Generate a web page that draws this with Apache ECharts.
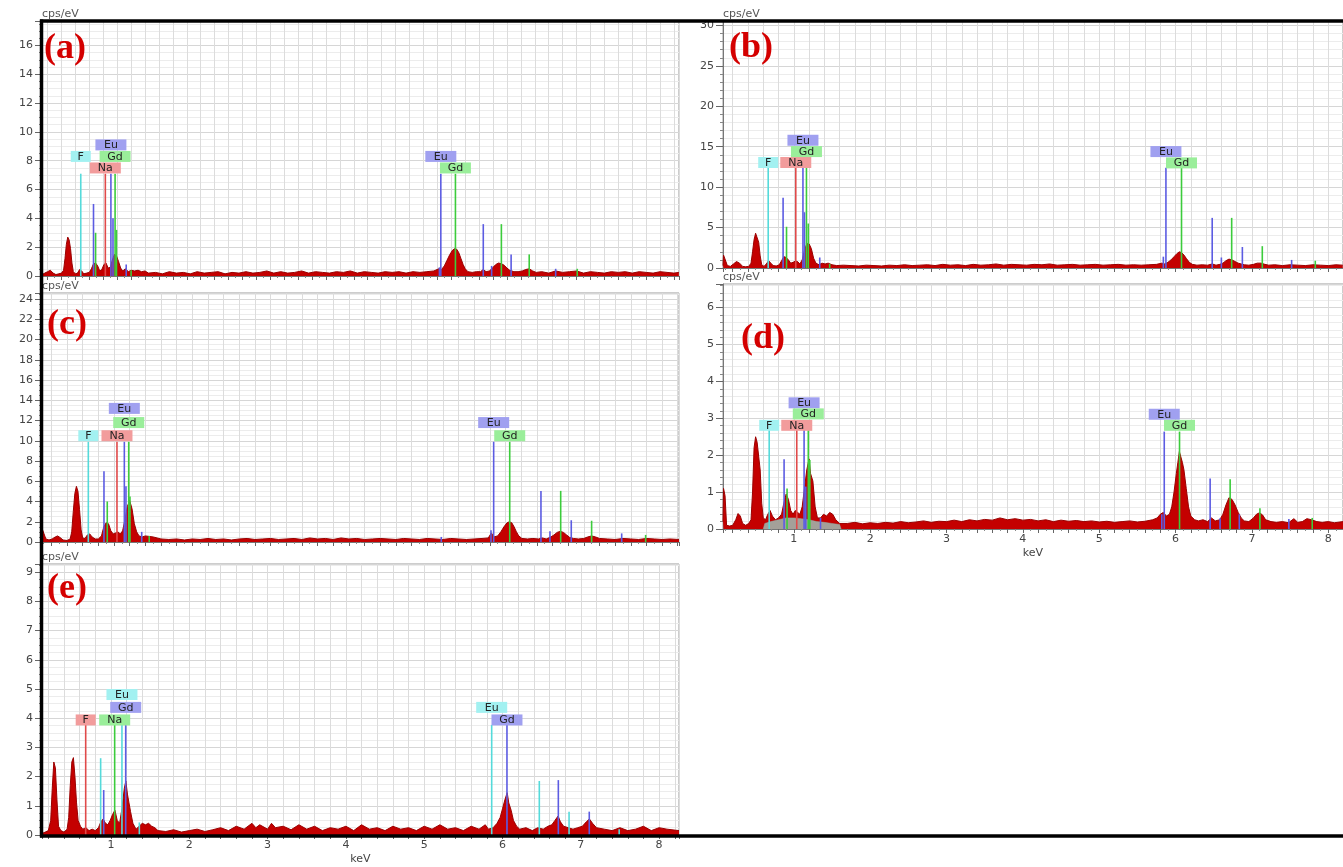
<!DOCTYPE html>
<html><head><meta charset="utf-8">
<script src="https://cdn.jsdelivr.net/npm/echarts@6/dist/echarts.min.js"></script>
<style>html,body{margin:0;padding:0;background:#fff}#c{width:1343px;height:867px}</style>
</head><body><div id="c"></div>
<script>
// ---------- DATA (keV, cps/eV) ----------
const panelNames = ['(a)','(b)','(c)','(d)','(e)'];
const yTicksA = [0,2,4,6,8,10,12,14,16];
const yTicksB = [0,5,10,15,20,25,30];
const yTicksC = [0,2,4,6,8,10,12,14,16,18,20,22,24];
const yTicksD = [0,1,2,3,4,5,6];
const yTicksE = [0,1,2,3,4,5,6,7,8,9];
const xTickLabels = [1,2,3,4,5,6,7,8];

const specA = [[0.12,0.1],[0.16,0.2],[0.2,0.3],[0.24,0.4],[0.28,0.2],[0.32,0.1],[0.36,0.15],[0.4,0.2],[0.43,0.4],[0.45,1.2],[0.47,2.2],[0.49,2.7],[0.51,2.5],[0.53,1.9],[0.55,0.9],[0.57,0.3],[0.6,0.15],[0.63,0.2],[0.66,0.45],[0.69,0.35],[0.72,0.15],[0.76,0.2],[0.8,0.25],[0.83,0.5],[0.86,0.85],[0.89,0.9],[0.92,0.7],[0.95,0.35],[0.98,0.45],[1.01,0.8],[1.04,0.9],[1.07,0.55],[1.1,0.6],[1.13,1.1],[1.16,1.5],[1.19,1.4],[1.22,1.0],[1.25,0.55],[1.28,0.35],[1.32,0.5],[1.36,0.3],[1.4,0.4],[1.45,0.35],[1.5,0.4],[1.55,0.3],[1.6,0.35],[1.65,0.2],[1.75,0.25],[1.85,0.15],[1.95,0.3],[2.05,0.2],[2.15,0.25],[2.25,0.15],[2.35,0.3],[2.45,0.2],[2.55,0.25],[2.65,0.3],[2.75,0.15],[2.85,0.25],[2.95,0.2],[3.05,0.3],[3.15,0.2],[3.25,0.25],[3.35,0.35],[3.45,0.2],[3.55,0.3],[3.65,0.2],[3.75,0.25],[3.85,0.35],[3.95,0.2],[4.05,0.3],[4.15,0.25],[4.25,0.2],[4.35,0.3],[4.45,0.25],[4.55,0.35],[4.65,0.2],[4.75,0.3],[4.85,0.25],[4.95,0.2],[5.05,0.3],[5.15,0.25],[5.25,0.3],[5.35,0.2],[5.45,0.3],[5.55,0.25],[5.65,0.3],[5.75,0.35],[5.82,0.5],[5.86,0.45],[5.9,0.7],[5.94,1.1],[5.98,1.5],[6.02,1.8],[6.05,1.9],[6.08,1.85],[6.11,1.6],[6.14,1.2],[6.17,0.8],[6.2,0.5],[6.24,0.3],[6.3,0.25],[6.36,0.3],[6.42,0.3],[6.46,0.45],[6.5,0.3],[6.55,0.35],[6.6,0.6],[6.64,0.8],[6.68,0.9],[6.72,0.85],[6.76,0.75],[6.8,0.55],[6.84,0.4],[6.9,0.3],[6.96,0.3],[7.02,0.35],[7.07,0.45],[7.12,0.5],[7.17,0.35],[7.22,0.25],[7.3,0.3],[7.4,0.2],[7.5,0.35],[7.6,0.25],[7.7,0.3],[7.8,0.35],[7.9,0.2],[8.0,0.3],[8.1,0.25],[8.2,0.2],[8.3,0.3],[8.4,0.25],[8.5,0.3],[8.6,0.2],[8.7,0.3],[8.8,0.25],[8.9,0.2],[9.0,0.3],[9.1,0.25],[9.2,0.2],[9.27,0.25]];

const specB = [[0.073,0.3],[0.08,1.6],[0.1,1.4],[0.13,0.3],[0.17,0.2],[0.21,0.5],[0.25,0.8],[0.29,0.6],[0.33,0.2],[0.37,0.15],[0.41,0.2],[0.44,0.6],[0.46,2.0],[0.48,3.5],[0.5,4.3],[0.52,4.1],[0.54,3.2],[0.56,1.5],[0.58,0.4],[0.61,0.2],[0.64,0.5],[0.67,0.9],[0.7,0.6],[0.73,0.3],[0.77,0.25],[0.81,0.4],[0.84,0.9],[0.87,1.4],[0.9,1.3],[0.93,1.0],[0.96,0.6],[0.99,0.7],[1.02,0.85],[1.05,0.8],[1.08,0.5],[1.11,1.0],[1.14,2.2],[1.17,3.0],[1.2,3.0],[1.23,2.4],[1.26,1.2],[1.29,0.6],[1.33,0.4],[1.37,0.6],[1.41,0.5],[1.45,0.6],[1.5,0.4],[1.56,0.3],[1.65,0.35],[1.75,0.3],[1.85,0.25],[1.95,0.35],[2.05,0.3],[2.15,0.25],[2.25,0.35],[2.35,0.3],[2.45,0.4],[2.55,0.3],[2.65,0.35],[2.75,0.4],[2.85,0.3],[2.95,0.45],[3.05,0.35],[3.15,0.4],[3.25,0.3],[3.35,0.45],[3.45,0.35],[3.55,0.4],[3.65,0.5],[3.75,0.35],[3.85,0.45],[3.95,0.4],[4.05,0.35],[4.15,0.45],[4.25,0.4],[4.35,0.5],[4.45,0.35],[4.55,0.4],[4.65,0.45],[4.75,0.35],[4.85,0.4],[4.95,0.45],[5.05,0.35],[5.15,0.4],[5.25,0.45],[5.35,0.35],[5.45,0.4],[5.55,0.35],[5.65,0.4],[5.75,0.45],[5.82,0.6],[5.86,0.5],[5.9,0.7],[5.94,1.0],[5.98,1.4],[6.02,1.8],[6.05,2.0],[6.08,1.9],[6.11,1.6],[6.14,1.2],[6.18,0.7],[6.22,0.45],[6.28,0.35],[6.35,0.4],[6.42,0.35],[6.48,0.5],[6.53,0.35],[6.58,0.45],[6.62,0.6],[6.66,0.9],[6.7,1.1],[6.74,1.0],[6.78,0.8],[6.82,0.6],[6.86,0.5],[6.9,0.4],[6.96,0.35],[7.02,0.45],[7.07,0.6],[7.12,0.6],[7.17,0.45],[7.22,0.35],[7.3,0.4],[7.4,0.3],[7.5,0.4],[7.6,0.35],[7.7,0.3],[7.8,0.4],[7.9,0.35],[8.0,0.3],[8.1,0.4],[8.19,0.35]];

const specC = [[0.08,0.3],[0.09,1.15],[0.11,1.0],[0.13,0.3],[0.17,0.2],[0.21,0.3],[0.25,0.5],[0.28,0.6],[0.31,0.45],[0.35,0.2],[0.4,0.15],[0.44,0.3],[0.46,1.0],[0.48,3.0],[0.5,4.8],[0.52,5.5],[0.54,5.0],[0.56,3.2],[0.58,1.2],[0.6,0.4],[0.63,0.35],[0.66,0.7],[0.69,0.8],[0.72,0.5],[0.76,0.3],[0.8,0.3],[0.84,0.6],[0.87,1.5],[0.9,1.9],[0.93,1.8],[0.96,1.1],[0.99,0.8],[1.02,0.9],[1.05,1.0],[1.08,0.8],[1.11,1.1],[1.14,2.2],[1.17,3.5],[1.2,4.1],[1.23,3.3],[1.26,1.8],[1.29,1.0],[1.32,0.6],[1.36,0.5],[1.4,0.6],[1.45,0.55],[1.5,0.5],[1.55,0.4],[1.6,0.3],[1.7,0.25],[1.8,0.3],[1.9,0.2],[2.0,0.3],[2.1,0.25],[2.2,0.35],[2.3,0.25],[2.4,0.3],[2.5,0.2],[2.6,0.3],[2.7,0.35],[2.8,0.25],[2.9,0.3],[3.0,0.35],[3.1,0.25],[3.2,0.3],[3.3,0.35],[3.4,0.25],[3.5,0.4],[3.6,0.3],[3.7,0.35],[3.8,0.25],[3.9,0.4],[4.0,0.3],[4.1,0.35],[4.2,0.25],[4.3,0.3],[4.4,0.35],[4.5,0.3],[4.6,0.25],[4.7,0.35],[4.8,0.3],[4.9,0.25],[5.0,0.35],[5.1,0.3],[5.2,0.25],[5.3,0.35],[5.4,0.3],[5.5,0.25],[5.6,0.3],[5.7,0.35],[5.78,0.4],[5.82,0.9],[5.85,0.5],[5.9,0.6],[5.94,1.0],[5.98,1.5],[6.02,1.9],[6.05,2.0],[6.08,1.9],[6.11,1.5],[6.14,1.0],[6.17,0.6],[6.21,0.35],[6.28,0.3],[6.35,0.35],[6.42,0.3],[6.47,0.4],[6.52,0.3],[6.58,0.5],[6.62,0.7],[6.66,0.95],[6.7,1.05],[6.74,0.95],[6.78,0.7],[6.82,0.45],[6.87,0.35],[6.93,0.3],[7.0,0.35],[7.05,0.5],[7.1,0.6],[7.15,0.5],[7.2,0.35],[7.3,0.3],[7.4,0.25],[7.5,0.35],[7.6,0.3],[7.7,0.25],[7.8,0.35],[7.9,0.3],[8.0,0.25],[8.1,0.3],[8.216,0.25]];

const specD = [[0.073,0.2],[0.08,1.1],[0.1,0.9],[0.12,0.1],[0.16,0.08],[0.2,0.1],[0.24,0.25],[0.27,0.42],[0.3,0.35],[0.33,0.15],[0.37,0.1],[0.41,0.15],[0.44,0.25],[0.46,1.0],[0.48,2.2],[0.5,2.5],[0.52,2.35],[0.54,2.3],[0.56,1.6],[0.58,0.7],[0.6,0.3],[0.63,0.25],[0.66,0.4],[0.69,0.5],[0.72,0.35],[0.76,0.25],[0.8,0.3],[0.84,0.4],[0.87,0.7],[0.9,0.95],[0.93,0.8],[0.96,0.5],[0.99,0.4],[1.02,0.5],[1.05,0.45],[1.08,0.4],[1.11,0.6],[1.14,1.1],[1.17,1.6],[1.2,1.9],[1.22,1.5],[1.25,1.3],[1.28,0.6],[1.31,0.3],[1.35,0.3],[1.39,0.4],[1.43,0.35],[1.47,0.45],[1.51,0.4],[1.55,0.25],[1.6,0.15],[1.7,0.15],[1.8,0.18],[1.9,0.14],[2.0,0.17],[2.1,0.15],[2.2,0.18],[2.3,0.16],[2.4,0.2],[2.5,0.17],[2.6,0.19],[2.7,0.22],[2.8,0.18],[2.9,0.21],[3.0,0.2],[3.1,0.24],[3.2,0.2],[3.3,0.25],[3.4,0.22],[3.5,0.26],[3.6,0.24],[3.7,0.3],[3.8,0.25],[3.9,0.28],[4.0,0.24],[4.1,0.26],[4.2,0.22],[4.3,0.25],[4.4,0.2],[4.5,0.24],[4.6,0.21],[4.7,0.23],[4.8,0.2],[4.9,0.22],[5.0,0.19],[5.1,0.21],[5.2,0.18],[5.3,0.2],[5.4,0.22],[5.5,0.19],[5.6,0.21],[5.7,0.25],[5.76,0.3],[5.8,0.4],[5.84,0.45],[5.88,0.35],[5.92,0.4],[5.95,0.6],[5.98,1.0],[6.01,1.5],[6.03,1.8],[6.05,2.1],[6.07,2.05],[6.09,1.8],[6.11,1.6],[6.14,1.1],[6.17,0.6],[6.2,0.35],[6.25,0.25],[6.3,0.22],[6.36,0.25],[6.42,0.2],[6.47,0.3],[6.52,0.22],[6.58,0.25],[6.62,0.4],[6.66,0.65],[6.7,0.85],[6.74,0.8],[6.78,0.65],[6.82,0.45],[6.86,0.3],[6.9,0.22],[6.96,0.2],[7.02,0.3],[7.06,0.4],[7.1,0.44],[7.14,0.38],[7.18,0.25],[7.25,0.2],[7.32,0.18],[7.4,0.2],[7.48,0.17],[7.55,0.28],[7.6,0.18],[7.66,0.2],[7.72,0.28],[7.78,0.25],[7.85,0.2],[7.92,0.18],[8.0,0.2],[8.08,0.17],[8.193,0.2]];
const bgD = [[0.6,0],[0.62,0.15],[0.7,0.2],[0.8,0.25],[0.9,0.3],[1.0,0.3],[1.1,0.28],[1.2,0.25],[1.3,0.2],[1.4,0.18],[1.5,0.15],[1.6,0.12],[1.62,0]];

const specE = [[0.119,0.05],[0.16,0.1],[0.2,0.15],[0.23,0.5],[0.25,1.6],[0.27,2.5],[0.29,2.3],[0.31,1.2],[0.33,0.3],[0.36,0.15],[0.4,0.1],[0.44,0.2],[0.46,0.6],[0.48,1.7],[0.5,2.5],[0.52,2.65],[0.54,2.0],[0.56,1.1],[0.58,0.5],[0.61,0.3],[0.64,0.2],[0.68,0.25],[0.72,0.15],[0.76,0.2],[0.8,0.15],[0.84,0.25],[0.87,0.45],[0.9,0.55],[0.93,0.4],[0.96,0.35],[0.99,0.5],[1.02,0.7],[1.05,0.85],[1.08,0.5],[1.11,0.4],[1.14,0.9],[1.17,1.6],[1.19,1.85],[1.21,1.4],[1.23,1.1],[1.25,0.8],[1.28,0.4],[1.32,0.2],[1.36,0.3],[1.4,0.4],[1.44,0.35],[1.48,0.4],[1.52,0.3],[1.56,0.25],[1.6,0.15],[1.7,0.12],[1.8,0.18],[1.9,0.1],[2.0,0.15],[2.1,0.2],[2.2,0.12],[2.3,0.18],[2.4,0.25],[2.5,0.15],[2.6,0.3],[2.7,0.2],[2.8,0.4],[2.85,0.25],[2.9,0.35],[3.0,0.2],[3.05,0.4],[3.1,0.25],[3.2,0.3],[3.3,0.18],[3.4,0.35],[3.5,0.2],[3.6,0.3],[3.7,0.15],[3.8,0.25],[3.9,0.2],[4.0,0.3],[4.1,0.15],[4.2,0.35],[4.3,0.2],[4.4,0.25],[4.5,0.15],[4.6,0.3],[4.7,0.2],[4.8,0.25],[4.9,0.15],[5.0,0.3],[5.1,0.2],[5.2,0.35],[5.3,0.2],[5.4,0.25],[5.5,0.15],[5.6,0.3],[5.7,0.2],[5.78,0.35],[5.82,0.2],[5.88,0.25],[5.93,0.4],[5.97,0.6],[6.0,0.9],[6.03,1.2],[6.06,1.45],[6.08,1.1],[6.11,0.85],[6.14,0.5],[6.18,0.3],[6.22,0.2],[6.3,0.25],[6.38,0.15],[6.45,0.25],[6.52,0.2],[6.58,0.3],[6.63,0.35],[6.67,0.5],[6.71,0.65],[6.74,0.45],[6.78,0.3],[6.84,0.25],[6.9,0.2],[6.96,0.25],[7.02,0.3],[7.07,0.45],[7.11,0.55],[7.15,0.4],[7.2,0.25],[7.3,0.2],[7.4,0.15],[7.5,0.25],[7.6,0.15],[7.7,0.2],[7.8,0.3],[7.9,0.15],[8.0,0.25],[8.1,0.2],[8.254,0.15]];

// element lines: [keV, height, colour key]
const markA = [[0.677,7.1,'cyan'],[0.86,5.0,'blue'],[0.89,3.0,'green'],[1.03,7.1,'red'],[1.11,7.1,'blue'],[1.14,4.0,'blue'],[1.17,7.1,'green'],[1.19,3.2,'green'],[1.33,0.8,'blue'],[1.40,0.4,'green'],[5.83,0.6,'blue'],[5.85,7.1,'blue'],[6.06,7.1,'green'],[6.46,3.6,'blue'],[6.58,0.7,'blue'],[6.72,3.6,'green'],[6.86,1.5,'blue'],[7.12,1.5,'green'],[7.50,0.5,'blue'],[7.81,0.5,'green']];
const markB = [[0.665,12.4,'cyan'],[0.86,8.7,'blue'],[0.905,5.1,'green'],[1.026,12.4,'red'],[1.12,12.4,'blue'],[1.14,6.9,'blue'],[1.166,12.4,'green'],[1.19,5.5,'green'],[1.34,1.3,'blue'],[1.47,0.5,'green'],[5.84,1.4,'blue'],[5.874,12.4,'blue'],[6.078,12.4,'green'],[6.48,6.2,'blue'],[6.6,1.3,'blue'],[6.735,6.2,'green'],[6.875,2.6,'blue'],[7.136,2.7,'green'],[7.52,1.0,'blue'],[7.83,0.9,'green']];
const markC = [[0.672,9.9,'cyan'],[0.872,7.0,'blue'],[0.914,4.0,'green'],[1.038,9.9,'red'],[1.132,9.9,'blue'],[1.153,5.5,'blue'],[1.188,9.9,'green'],[1.204,4.5,'green'],[1.354,1.0,'blue'],[1.45,0.6,'green'],[5.18,0.5,'blue'],[5.815,1.15,'blue'],[5.849,9.9,'blue'],[6.054,9.9,'green'],[6.453,5.05,'blue'],[6.568,1.05,'blue'],[6.705,5.05,'green'],[6.84,2.15,'blue'],[7.10,2.1,'green'],[7.484,0.85,'blue'],[7.79,0.7,'green']];
const markD = [[0.678,2.68,'cyan'],[0.873,1.89,'blue'],[0.912,1.1,'green'],[1.039,2.68,'red'],[1.135,2.68,'blue'],[1.157,1.15,'blue'],[1.19,2.68,'green'],[1.21,1.87,'green'],[1.35,0.3,'blue'],[5.82,0.4,'blue'],[5.852,2.64,'blue'],[6.052,2.64,'green'],[6.453,1.37,'blue'],[6.583,0.29,'blue'],[6.715,1.35,'green'],[6.835,0.4,'blue'],[7.105,0.56,'green'],[7.484,0.27,'blue'],[7.79,0.3,'green']];
const markE = [[0.677,3.77,'red'],[0.868,2.63,'cyan'],[0.907,1.54,'blue'],[1.047,3.77,'green'],[1.14,3.77,'cyan'],[1.188,3.77,'blue'],[1.362,0.43,'cyan'],[5.862,3.77,'cyan'],[6.057,3.77,'blue'],[6.47,1.85,'cyan'],[6.713,1.88,'blue'],[6.85,0.8,'cyan'],[7.108,0.8,'blue'],[7.49,0.2,'cyan']];

// element tags: [text, keV, cps (box centre), colour key]
const tagsA = [['F',0.677,8.3,'cyan'],['Eu',1.11,9.1,'blue'],['Gd',1.17,8.3,'green'],['Na',1.03,7.5,'red'],['Eu',5.85,8.3,'blue'],['Gd',6.06,7.5,'green']];
const tagsB = [['F',0.665,13.05,'cyan'],['Na',1.026,13.05,'red'],['Eu',1.12,15.8,'blue'],['Gd',1.166,14.4,'green'],['Eu',5.874,14.4,'blue'],['Gd',6.078,13.0,'green']];
const tagsC = [['F',0.672,10.5,'cyan'],['Na',1.038,10.5,'red'],['Eu',1.132,13.2,'blue'],['Gd',1.188,11.8,'green'],['Eu',5.849,11.8,'blue'],['Gd',6.054,10.5,'green']];
const tagsD = [['F',0.678,2.81,'cyan'],['Na',1.039,2.81,'red'],['Eu',1.135,3.42,'blue'],['Gd',1.19,3.12,'green'],['Eu',5.852,3.11,'blue'],['Gd',6.052,2.81,'green']];
const tagsE = [['F',0.677,3.94,'red'],['Na',1.047,3.94,'green'],['Eu',1.14,4.81,'cyan'],['Gd',1.188,4.37,'blue'],['Eu',5.862,4.37,'cyan'],['Gd',6.057,3.94,'blue']];

// ---------- LAYOUT / STYLE ----------
const PAL = {cyan:{line:'#55dada',box:'#a2f1f1'}, red:{line:'#e04a4a',box:'#f29c9c'},
             blue:{line:'#5c5ce2',box:'#a0a0f0'}, green:{line:'#3ccc3c',box:'#9aee9a'}};
const FONT = 'DejaVu Sans';
const panels = [
  {spec:specA, marks:markA, tags:tagsA, yt:yTicksA, grid:{left:42,top:21,width:637,height:255}, xr:[0.12,9.272], xs:46, ymax:17.7, yi:2, ym:4, xl:false, lab:[44,31]},
  {spec:specB, marks:markB, tags:tagsB, yt:yTicksB, grid:{left:723,top:21,width:622,height:247}, xr:[0.073,8.193], xs:40, ymax:30.55, yi:5, ym:5, xl:false, lab:[729,30]},
  {spec:specC, marks:markC, tags:tagsC, yt:yTicksC, grid:{left:42,top:293,width:637,height:249}, xr:[0.0805,8.216], xs:40, ymax:24.6, yi:2, ym:4, xl:false, lab:[47,307]},
  {spec:specD, marks:markD, tags:tagsD, yt:yTicksD, grid:{left:723,top:284,width:622,height:245}, xr:[0.073,8.193], xs:40, ymax:6.64, yi:1, ym:5, xl:true, lab:[741,321], bg:bgD},
  {spec:specE, marks:markE, tags:tagsE, yt:yTicksE, grid:{left:42,top:564,width:637,height:271}, xr:[0.119,8.254], xs:40, ymax:9.28, yi:1, ym:4, xl:true, lab:[47,571]}
];

const near = (v, list) => list.some(t => Math.abs(v - t) < 1e-6);

const option = {animation:false, backgroundColor:'#fff', grid:[], xAxis:[], yAxis:[], series:[], title:[], graphic:[]};
panels.forEach((p, i) => {
  option.grid.push(Object.assign({show:true, borderColor:'#9a9a9a', borderWidth:1, backgroundColor:'transparent'}, p.grid));
  option.xAxis.push({type:'value', gridIndex:i, min:p.xr[0], max:p.xr[1], splitNumber:p.xs,
    axisLine:{show:true, onZero:false, lineStyle:{color:'#777', width:1}},
    axisTick:{show:true, length:4, lineStyle:{color:'#666'}},
    minorTick:{show:true, splitNumber:2, length:2, lineStyle:{color:'#888'}},
    axisLabel:{show:p.xl, interval:0, showMinLabel:false, showMaxLabel:false, margin:5, fontSize:11, fontFamily:FONT, color:'#444',
      formatter: v => near(v, xTickLabels) ? String(Math.round(v)) : ''},
    splitLine:{show:true, lineStyle:{color:'#dcdcdc', width:1}},
    name: p.xl ? 'keV' : '', nameLocation:'middle', nameGap:19,
    nameTextStyle:{fontSize:11, fontFamily:FONT, color:'#444'}});
  option.yAxis.push({type:'value', gridIndex:i, min:0, max:p.ymax, interval:p.yi,
    axisLine:{show:true, lineStyle:{color:'#777', width:1}},
    axisTick:{show:true, length:7, lineStyle:{color:'#666'}},
    minorTick:{show:true, splitNumber:p.ym, length:3, lineStyle:{color:'#888'}},
    axisLabel:{margin:9, fontSize:11, fontFamily:FONT, color:'#444', showMaxLabel:true,
      formatter: v => near(v, p.yt) ? String(Math.round(v)) : ''},
    splitLine:{show:true, lineStyle:{color:'#d6d6d6'}},
    minorSplitLine:{show:true, lineStyle:{color:'#ececec'}},
    name:'cps/eV', nameLocation:'end', nameGap:1,
    nameTextStyle:{align:'left', verticalAlign:'bottom', fontSize:11, fontFamily:FONT, color:'#555'}});
  option.series.push({type:'line', xAxisIndex:i, yAxisIndex:i, data:p.spec, symbol:'none', showSymbol:false, z:2,
    lineStyle:{color:'#9a0000', width:1}, areaStyle:{color:'#c40000', opacity:1}});
  if (p.bg) {
    option.series.push({type:'line', xAxisIndex:i, yAxisIndex:i, data:p.bg, symbol:'none', showSymbol:false, z:3,
      lineStyle:{color:'#8fb0a8', width:0.5}, areaStyle:{color:'#9fbcb4', opacity:0.85}});
  }
  const marks = p.marks;
  option.series.push({type:'custom', xAxisIndex:i, yAxisIndex:i, z:4, clip:true,
    data: marks.map(m => [m[0], m[1]]), encode:{x:0, y:1},
    renderItem:(params, api) => {
      const m = marks[params.dataIndex];
      const a = api.coord([api.value(0), 0]), b = api.coord([api.value(0), api.value(1)]);
      return {type:'line', shape:{x1:a[0], y1:a[1], x2:b[0], y2:b[1]}, style:{stroke:PAL[m[2]].line, lineWidth:1.6}};
    }});
  const tags = p.tags;
  option.series.push({type:'custom', xAxisIndex:i, yAxisIndex:i, z:5,
    data: tags.map(t => [t[1], t[2]]), encode:{x:0, y:1},
    renderItem:(params, api) => {
      const t = tags[params.dataIndex];
      const c = api.coord([api.value(0), api.value(1)]);
      const w = t[0].length === 1 ? 20 : 31, h = 11;
      return {type:'group', children:[
        {type:'rect', shape:{x:c[0]-w/2, y:c[1]-h/2, width:w, height:h}, style:{fill:PAL[t[3]].box}},
        {type:'text', style:{text:t[0], x:c[0], y:c[1]+0.5, align:'center', verticalAlign:'middle', fill:'#222', fontSize:11, fontFamily:FONT}}
      ]};
    }});
  option.title.push({text:panelNames[i], left:p.lab[0], top:p.lab[1], padding:0,
    textStyle:{fontFamily:'Liberation Serif', fontWeight:'bold', fontSize:36, color:'#d40000'}});
});
option.graphic = [
  {type:'line', z:100, shape:{x1:40, y1:21, x2:1343, y2:21}, style:{stroke:'#000', lineWidth:3.5}},
  {type:'line', z:100, shape:{x1:41.5, y1:19.5, x2:41.5, y2:837.5}, style:{stroke:'#000', lineWidth:3.5}},
  {type:'line', z:100, shape:{x1:40, y1:836, x2:1343, y2:836}, style:{stroke:'#000', lineWidth:3.5}}
];
const chart = echarts.init(document.getElementById('c'), null, {renderer:'canvas'});
chart.setOption(option);
</script></body></html>
